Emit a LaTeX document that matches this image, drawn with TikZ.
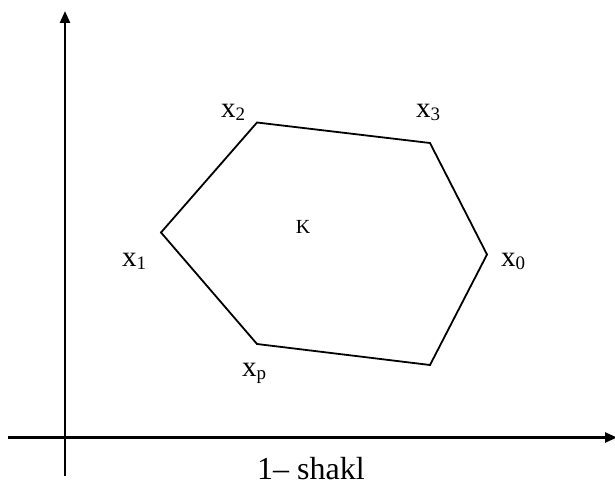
\documentclass[tikz,border=0pt]{standalone}
\usepackage{fontspec}
\setmainfont{Liberation Serif}
\usetikzlibrary{arrows.meta}
\newcommand{\lab}[2]{\fontsize{29}{30}\selectfont #1\raisebox{-3.5pt}{\fontsize{19}{20}\selectfont #2}}
\begin{document}
\begin{tikzpicture}[x=1pt,y=-1pt,
  axis/.style={line width=2.4pt,-{Triangle[length=12pt,width=10pt]}},
  poly/.style={line width=1.8pt,line join=miter},
  lbl/.style={inner sep=0pt,anchor=base west}]
\useasboundingbox (0,0) rectangle (615,487);
% axes
\coordinate (ybot) at (65,476);
\coordinate (ytop) at (65,11);
\coordinate (xleft) at (8,437.5);
\coordinate (xright) at (617,437.5);
\draw[axis] (ybot) -- (ytop);
\draw[axis] (xleft) -- (xright);
% polygon vertices
\coordinate (v1) at (161,232.5);
\coordinate (v2) at (257,122.5);
\coordinate (v3) at (430,143);
\coordinate (v0) at (487,254.5);
\coordinate (v4) at (430,365);
\coordinate (vp) at (257,344);
\draw[poly] (v1) -- (v2) -- (v3) -- (v0) -- (v4) -- (vp) -- cycle;
% labels
\node[lbl] (l2) at (221,117) {\lab{x}{2}};
\node[lbl] (l3) at (416,117) {\lab{x}{3}};
\node[lbl] (l1) at (122,266) {\lab{x}{1}};
\node[lbl] (l0) at (501,266) {\lab{x}{0}};
\node[lbl] (lp) at (242,376) {\lab{x}{p}};
\node[inner sep=0pt] (k) at (303,227) {\fontsize{20}{22}\selectfont K};
\node[lbl] (cap) at (257,479) {\fontsize{32}{34}\selectfont 1– shakl};
\end{tikzpicture}
\end{document}
